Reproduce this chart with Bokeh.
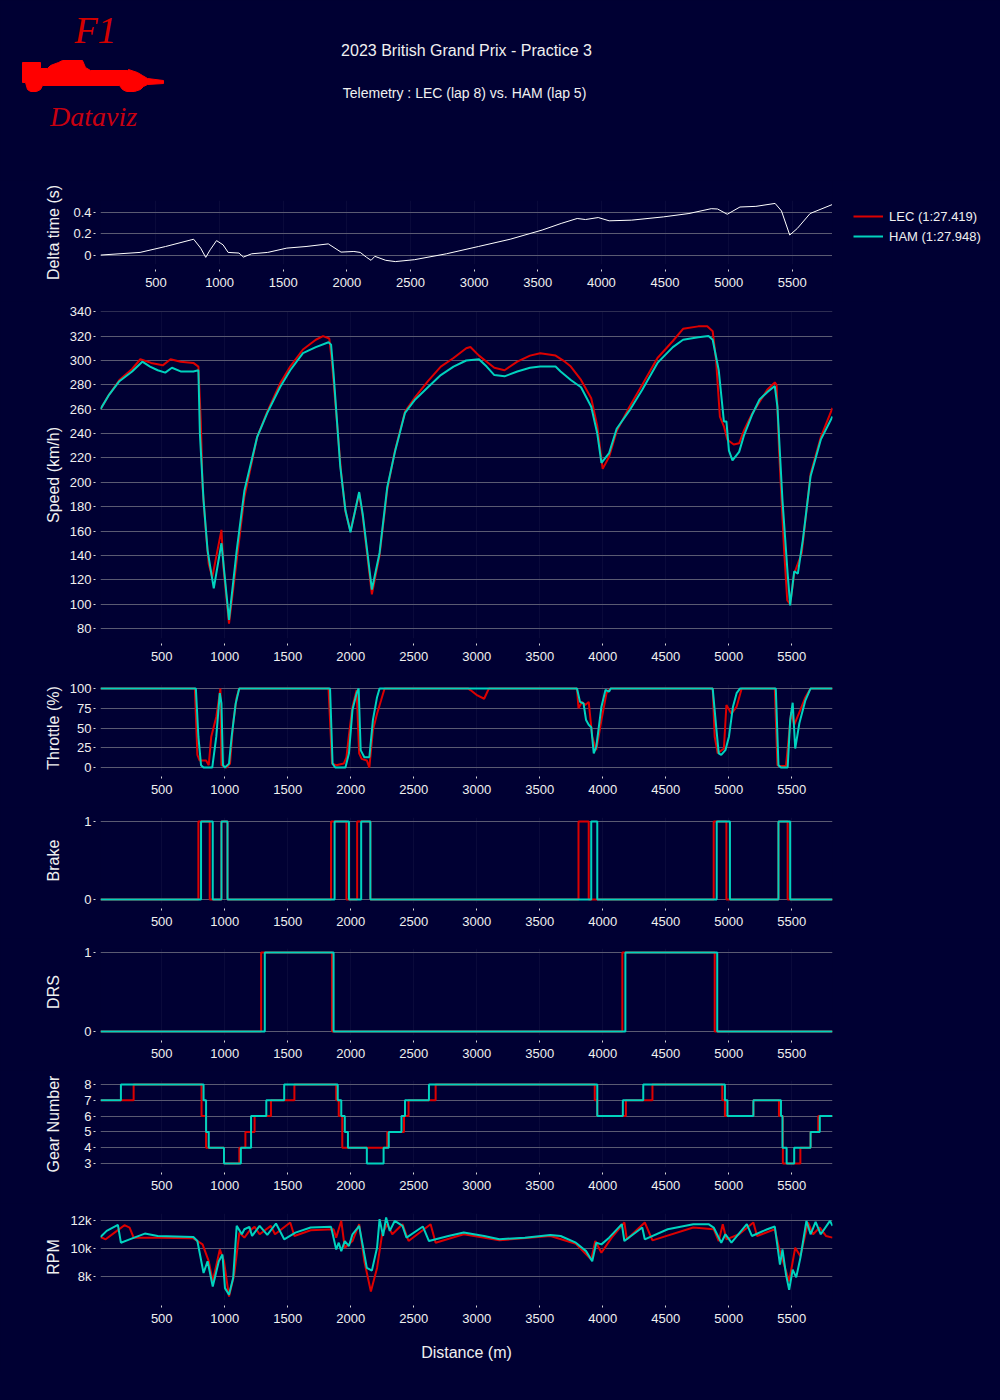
from bokeh.plotting import figure
from bokeh.layouts import column, row
from bokeh.models import Range1d, FixedTicker, NumeralTickFormatter, Legend, LegendItem
from bokeh.core.properties import value
from bokeh.embed import file_html
from bokeh.resources import INLINE

# ---------------- data ----------------
TITLE = "2023 British Grand Prix - Practice 3"
SUBTITLE = "Telemetry :  LEC (lap 8) vs. HAM (lap 5)"
LEC_LAP = "LEC (1:27.419)"
HAM_LAP = "HAM (1:27.948)"
X_TICKS = [500, 1000, 1500, 2000, 2500, 3000, 3500, 4000, 4500, 5000, 5500]

DELTA = [(64, 0.0), (375, 0.025), (575, 0.081), (776, 0.144), (796, 0.15), (851, 0.066),
         (891, -0.022), (926, 0.05), (976, 0.137), (1027, 0.097), (1067, 0.025), (1152, 0.019),
         (1187, -0.019), (1252, 0.012), (1378, 0.025), (1528, 0.066), (1679, 0.081), (1854, 0.106),
         (1954, 0.028), (2055, 0.034), (2105, 0.025), (2155, -0.022), (2190, -0.05), (2220, -0.012),
         (2305, -0.05), (2381, -0.062), (2531, -0.044), (2782, 0.012), (3033, 0.081), (3283, 0.15),
         (3534, 0.237), (3684, 0.3), (3810, 0.347), (3875, 0.337), (3975, 0.356), (4061, 0.325),
         (4236, 0.331), (4487, 0.362), (4688, 0.394), (4863, 0.44), (4913, 0.437), (4989, 0.387),
         (5089, 0.456), (5214, 0.462), (5365, 0.49), (5415, 0.419), (5480, 0.19), (5540, 0.253),
         (5640, 0.394), (5816, 0.48)]

SPEED_LEC = [(14, 260), (83, 272), (164, 284), (265, 293), (330, 301), (416, 298), (508, 296),
             (570, 301), (650, 299), (751, 298), (791, 295), (810, 250), (824, 196), (850, 160),
             (873, 133), (901, 122), (974, 161), (990, 130), (1034, 84), (1095, 136), (1156, 188),
             (1257, 237), (1338, 258), (1439, 281), (1520, 295), (1621, 309), (1723, 317),
             (1780, 320), (1830, 318), (1850, 300), (1925, 207), (1958, 176), (1998, 160),
             (2067, 191), (2095, 172), (2168, 108), (2229, 140), (2290, 194), (2351, 226),
             (2431, 258), (2512, 270), (2613, 283), (2715, 295), (2816, 302), (2917, 310),
             (2950, 311), (3018, 304), (3079, 299), (3140, 294), (3221, 292), (3322, 299),
             (3423, 304), (3504, 306), (3626, 304), (3700, 299), (3747, 295), (3828, 284),
             (3909, 269), (3957, 246), (4000, 211), (4051, 221), (4111, 242), (4213, 262),
             (4314, 280), (4435, 302), (4557, 316), (4638, 326), (4759, 328), (4830, 328),
             (4873, 324), (4900, 300), (4930, 254), (4962, 246), (4990, 235), (5040, 231),
             (5083, 232), (5123, 243), (5184, 256), (5306, 276), (5366, 282), (5380, 280),
             (5400, 226), (5440, 144), (5465, 103), (5488, 100), (5520, 125), (5580, 142),
             (5650, 207), (5731, 237), (5824, 261)]

SPEED_HAM = [(14, 260), (83, 272), (164, 283), (265, 291), (346, 299), (407, 295), (468, 292),
             (528, 290), (581, 294), (650, 291), (751, 291), (791, 292), (803, 240), (832, 185),
             (864, 144), (913, 113), (974, 150), (1034, 87), (1095, 144), (1156, 193), (1257, 237),
             (1338, 257), (1439, 278), (1520, 292), (1621, 306), (1723, 311), (1824, 315),
             (1844, 313), (1864, 289), (1917, 213), (1958, 177), (1998, 159), (2067, 192),
             (2095, 174), (2168, 112), (2229, 142), (2290, 196), (2351, 225), (2431, 257),
             (2512, 268), (2613, 278), (2715, 288), (2816, 295), (2917, 300), (3018, 301),
             (3079, 295), (3140, 288), (3221, 287), (3322, 291), (3423, 294), (3504, 295),
             (3626, 295), (3666, 291), (3747, 284), (3828, 278), (3909, 262), (3957, 240),
             (3990, 216), (4051, 224), (4111, 244), (4213, 259), (4314, 276), (4435, 298),
             (4557, 311), (4638, 317), (4759, 319), (4840, 320), (4873, 317), (4921, 292),
             (4962, 250), (4982, 250), (5002, 226), (5030, 218), (5083, 225), (5123, 239),
             (5184, 255), (5245, 268), (5306, 274), (5366, 279), (5387, 262), (5427, 185),
             (5468, 125), (5488, 99), (5520, 127), (5549, 125), (5589, 153), (5650, 205),
             (5731, 235), (5824, 254)]

THROTTLE_LEC = [(14, 100), (763, 100), (783, 16), (800, 9), (852, 9), (873, 3), (893, 39),
                (933, 64), (966, 100), (974, 3), (1014, 0), (1042, 5), (1067, 56), (1095, 89),
                (1115, 100), (1824, 100), (1852, 5), (1885, 3), (1945, 5), (1966, 13), (1986, 41),
                (2014, 77), (2047, 98), (2067, 18), (2087, 11), (2128, 9), (2148, 0), (2176, 47),
                (2209, 68), (2241, 85), (2269, 100), (2930, 100), (2950, 98), (2998, 92),
                (3059, 87), (3091, 98), (3100, 100), (3796, 100), (3808, 75), (3836, 83),
                (3861, 79), (3889, 83), (3917, 39), (3949, 22), (3990, 60), (4030, 94),
                (4063, 100), (4873, 100), (4889, 39), (4913, 18), (4962, 24), (4982, 79),
                (5022, 68), (5063, 77), (5103, 100), (5366, 100), (5387, 3), (5407, 2),
                (5455, 2), (5496, 70), (5520, 54), (5569, 73), (5609, 89), (5650, 100), (5824, 100)]

THROTTLE_HAM = [(14, 100), (771, 100), (791, 39), (812, 3), (832, 0), (901, 0), (933, 39),
                (961, 94), (974, 81), (986, 3), (1002, 0), (1034, 5), (1055, 39), (1087, 81),
                (1115, 100), (1836, 100), (1856, 5), (1877, 0), (1958, 0), (1986, 18), (2014, 73),
                (2047, 94), (2063, 100), (2079, 22), (2108, 13), (2148, 13), (2176, 60),
                (2209, 89), (2229, 100), (3796, 100), (3820, 83), (3848, 81), (3868, 60),
                (3889, 54), (3909, 51), (3929, 18), (3949, 26), (3990, 77), (4022, 98),
                (4051, 96), (4063, 100), (4873, 100), (4901, 51), (4921, 18), (4941, 16),
                (4974, 22), (5002, 39), (5034, 77), (5063, 94), (5091, 100), (5374, 100),
                (5395, 3), (5415, 0), (5468, 0), (5488, 60), (5508, 82), (5528, 24), (5561, 56),
                (5609, 85), (5650, 100), (5824, 100)]

# step data: (distance where value starts, value)
BRAKE_LEC = [(14, 0), (791, 1), (881, 0), (974, 1), (1022, 0), (1844, 1), (1966, 0), (2051, 1),
             (2156, 0), (3808, 1), (3889, 0), (4881, 1), (4982, 0), (5395, 1), (5468, 0), (5824, 0)]
BRAKE_HAM = [(14, 0), (812, 1), (905, 0), (974, 1), (1022, 0), (1872, 1), (1986, 0), (2083, 1),
             (2156, 0), (3909, 1), (3957, 0), (4905, 1), (5010, 0), (5395, 1), (5488, 0), (5824, 0)]

DRS_LEC = [(14, 0), (1289, 1), (1852, 0), (4156, 1), (4889, 0), (5824, 0)]
DRS_HAM = [(14, 0), (1318, 1), (1864, 0), (4180, 1), (4909, 0), (5824, 0)]

GEAR_LEC = [(14, 7), (277, 8), (816, 6), (852, 4), (994, 3), (1116, 4), (1164, 5), (1237, 6),
            (1367, 7), (1553, 8), (1885, 7), (1905, 6), (1933, 4), (2290, 5), (2423, 6),
            (2459, 7), (2674, 8), (3937, 7), (3957, 6), (4184, 7), (4395, 8), (4949, 7),
            (4970, 6), (5196, 7), (5399, 6), (5430, 3), (5569, 4), (5650, 5), (5711, 6), (5824, 6)]
GEAR_HAM = [(14, 7), (176, 8), (832, 7), (852, 5), (873, 4), (994, 3), (1128, 4), (1209, 6),
            (1330, 7), (1472, 8), (1897, 7), (1925, 6), (1953, 5), (1978, 4), (2128, 3),
            (2261, 4), (2302, 5), (2403, 6), (2431, 7), (2621, 8), (3957, 6), (4160, 7),
            (4322, 8), (4970, 7), (4990, 6), (5196, 7), (5415, 6), (5427, 4), (5460, 3),
            (5520, 4), (5650, 5), (5723, 6), (5824, 6)]

RPM_LEC = [(14, 10836), (55, 10667), (144, 11273), (204, 11685), (245, 11515), (277, 10788),
           (468, 10788), (751, 10739), (824, 10303), (873, 9091), (905, 7636), (961, 9939),
           (994, 9091), (1034, 6545), (1075, 8121), (1116, 11152), (1156, 10788), (1196, 11273),
           (1237, 11564), (1277, 11030), (1366, 11636), (1399, 11030), (1520, 11879),
           (1553, 10909), (1682, 11321), (1864, 11394), (1885, 10788), (1925, 12000),
           (1953, 10061), (2014, 10545), (2067, 11758), (2108, 9091), (2160, 6909), (2209, 8606),
           (2249, 11030), (2290, 11758), (2330, 11030), (2411, 11758), (2459, 10545),
           (2634, 11758), (2674, 10424), (2897, 11030), (3180, 10594), (3585, 10909),
           (3787, 10352), (3909, 9212), (3941, 10545), (3990, 9697), (4071, 10788),
           (4172, 11879), (4192, 10667), (4334, 11879), (4395, 10594), (4719, 11515),
           (4881, 11394), (4921, 10545), (4953, 11758), (4982, 10667), (5083, 11030),
           (5196, 11879), (5225, 10909), (5366, 11394), (5399, 10061), (5447, 8606),
           (5480, 7636), (5528, 10061), (5569, 9455), (5630, 11879), (5670, 11030),
           (5723, 11515), (5772, 10909), (5824, 10788)]
RPM_HAM = [(14, 10836), (63, 11273), (152, 11709), (176, 10424), (245, 10667), (366, 11079),
           (468, 10909), (751, 10836), (783, 10545), (832, 8242), (864, 9091), (905, 7273),
           (953, 9091), (982, 9576), (1002, 7152), (1034, 6667), (1067, 7879), (1095, 11636),
           (1136, 11030), (1156, 11394), (1196, 11564), (1217, 10909), (1277, 11636),
           (1338, 10982), (1407, 11806), (1472, 10667), (1561, 11152), (1682, 11515),
           (1844, 11564), (1885, 9939), (1905, 10424), (1925, 9818), (1953, 10545),
           (1986, 10182), (2014, 11030), (2047, 11394), (2067, 11636), (2128, 8606),
           (2168, 8412), (2209, 10061), (2229, 12121), (2257, 10909), (2281, 12242),
           (2310, 11273), (2350, 12000), (2411, 11636), (2443, 10788), (2573, 11588),
           (2621, 10545), (2775, 10909), (2897, 11152), (3059, 10909), (3180, 10667),
           (3383, 10788), (3585, 10982), (3666, 10909), (3787, 10424), (3868, 9818),
           (3917, 9091), (3949, 10424), (3990, 10303), (4051, 10788), (4152, 11758),
           (4172, 10545), (4314, 11515), (4334, 10667), (4516, 11394), (4719, 11758),
           (4840, 11758), (4881, 11515), (4941, 10424), (4974, 11030), (5022, 10424),
           (5144, 11758), (5184, 10909), (5306, 11394), (5366, 11588), (5407, 8848),
           (5427, 9939), (5455, 8121), (5480, 7030), (5508, 8485), (5536, 7927), (5569, 9333),
           (5617, 12000), (5650, 11030), (5690, 11927), (5731, 11030), (5804, 12000),
           (5824, 11636)]

# ---------------- style ----------------
BG = "#000033"
LEC_COLOR = "#dc0000"
HAM_COLOR = "#00d2be"
GRID = "#5a5a72"
TEXT = "#f0f0f0"
FONT = "Liberation Sans"
W = 1000
LEFT, RIGHT = 100, 168
NAN = float("nan")


def unzip(pairs):
    return [a for a, _ in pairs], [b for _, b in pairs]


def padded(*series):
    vals = [v for s in series for _, v in s]
    lo, hi = min(vals), max(vals)
    pad = (hi - lo) * 0.05
    return Range1d(lo - pad, hi + pad)


d_speed, _ = unzip(SPEED_HAM)
x_main = Range1d(min(d_speed), max(d_speed))
d_delta, _ = unzip(DELTA)
x_delta = Range1d(min(d_delta), max(d_delta))


def panel(height, top, bottom, x_range, y_range, yticks, label, standoff,
          width=W, right=RIGHT, align=True):
    p = figure(width=width, height=height, x_range=x_range, y_range=y_range,
               output_backend="svg", toolbar_location=None, frame_align=align,
               min_border_left=LEFT, min_border_right=right, min_border_top=top,
               min_border_bottom=bottom, background_fill_color=BG,
               border_fill_color=BG, outline_line_color=None)
    p.xaxis.ticker = FixedTicker(ticks=X_TICKS)
    p.yaxis.ticker = FixedTicker(ticks=yticks)
    for ax in (p.xaxis, p.yaxis):
        ax.axis_line_color = None
        ax.major_tick_line_color = "#d8d8d8"
        ax.minor_tick_line_color = None
        ax.major_label_text_color = TEXT
        ax.major_label_text_font = FONT
        ax.major_label_text_font_size = "13px"
    p.xaxis.major_tick_in = -5
    p.xaxis.major_tick_out = 7
    p.xaxis.major_label_standoff = 6
    p.yaxis.major_tick_in = -5
    p.yaxis.major_tick_out = 7
    p.yaxis.major_label_standoff = 2
    p.yaxis.axis_label = label
    p.yaxis.axis_label_text_font = FONT
    p.yaxis.axis_label_text_font_size = "16px"
    p.yaxis.axis_label_text_font_style = "normal"
    p.yaxis.axis_label_text_color = TEXT
    p.yaxis.axis_label_standoff = standoff
    p.ygrid.grid_line_color = GRID
    p.ygrid.grid_line_width = 1
    p.xgrid.grid_line_color = "white"
    p.xgrid.grid_line_alpha = 0.04
    return p


def lines(p, lec, ham, step=False, width=2):
    for s, c in ((lec, LEC_COLOR), (ham, HAM_COLOR)):
        x, y = unzip(s)
        if step:
            p.step(x, y, mode="after", line_color=c, line_width=width)
        else:
            p.line(x, y, line_color=c, line_width=width)


def blank(width, height):
    f = figure(width=width, height=height, x_range=Range1d(0, width),
               y_range=Range1d(height, 0), output_backend="svg", toolbar_location=None,
               min_border=0, frame_align=False, x_axis_type=None, y_axis_type=None,
               background_fill_color=BG, border_fill_color=BG, outline_line_color=None)
    f.xgrid.visible = False
    f.ygrid.visible = False
    return f


# ---------------- header ----------------
HEADER_H = 180
hdr = blank(W, HEADER_H)
hdr.text(x=[466], y=[50], text=[TITLE], text_align="center", text_baseline="middle",
         text_font=value(FONT), text_font_size="16px", text_color=TEXT)
hdr.text(x=[466], y=[92], text=[SUBTITLE], text_align="center", text_baseline="middle",
         text_font=value(FONT), text_font_size="14px", text_color=TEXT)
# logo
hdr.text(x=[95], y=[29], text=["F1"], text_align="center", text_baseline="middle",
         text_font=value("Liberation Serif"), text_font_style="italic",
         text_font_size="38px", text_color="#d40000")
hdr.text(x=[93], y=[116], text=["Dataviz"], text_align="center", text_baseline="middle",
         text_font=value("Liberation Serif"), text_font_style="italic",
         text_font_size="28px", text_color="#c80010")
CAR_X = [22, 40, 40, 47, 50, 58, 62, 82, 85, 90, 127, 128, 137, 142, 147, 163, 163, 147, 143,
         140, 134, 126, 122, 119, 42, 40, 36, 30, 27, 25, 22]
CAR_Y = [62, 62, 68, 68, 65, 62, 60, 60, 67, 70, 70, 69, 72, 75, 78, 80, 83, 84, 86, 89, 91,
         91, 89, 85, 85, 89, 91, 91, 89, 82, 82]
hdr.patch(CAR_X, CAR_Y, fill_color="#ff0000", line_color="#ff0000")

# ---------------- panels ----------------
DELTA_H = 121
p_delta = panel(DELTA_H, 20, 37, x_delta, padded(DELTA), [0, 0.2, 0.4], "Delta time (s)", 8,
                width=W - RIGHT, right=0, align=False)
p_delta.yaxis.major_label_overrides = {0: "0"}
dx, dy = unzip(DELTA)
p_delta.line(dx, dy, line_color="white", line_width=1)

# legend box to the right of the delta panel (legend-only renderers, nothing plotted)
p_leg = blank(RIGHT, DELTA_H)
r_lec = p_leg.line([NAN], [NAN], line_color=LEC_COLOR, line_width=2)
r_ham = p_leg.line([NAN], [NAN], line_color=HAM_COLOR, line_width=2)
lg = Legend(items=[LegendItem(label=LEC_LAP, renderers=[r_lec]),
                   LegendItem(label=HAM_LAP, renderers=[r_ham])],
            location=(21, 55), padding=0, margin=0, spacing=0, glyph_height=20,
            glyph_width=30, label_height=20, label_standoff=6, background_fill_alpha=0,
            border_line_alpha=0, label_text_color=TEXT, label_text_font=FONT,
            label_text_font_size="13px")
p_leg.add_layout(lg, "center")

p_speed = panel(373, 10, 36, x_main, padded(SPEED_LEC, SPEED_HAM),
                list(range(80, 341, 20)), "Speed (km/h)", 5)
lines(p_speed, SPEED_LEC, SPEED_HAM)

p_thr = panel(133, 10, 36, x_main, padded(THROTTLE_LEC, THROTTLE_HAM),
              [0, 25, 50, 75, 100], "Throttle (%)", 5)
lines(p_thr, THROTTLE_LEC, THROTTLE_HAM)

p_brk = panel(131, 10, 35, x_main, padded(BRAKE_LEC, BRAKE_HAM), [0, 1], "Brake", 19)
lines(p_brk, BRAKE_LEC, BRAKE_HAM, step=True)

p_drs = panel(132, 10, 35, x_main, padded(DRS_LEC, DRS_HAM), [0, 1], "DRS", 19)
lines(p_drs, DRS_LEC, DRS_HAM, step=True)

p_gear = panel(133, 10, 36, x_main, padded(GEAR_LEC, GEAR_HAM), [3, 4, 5, 6, 7, 8],
               "Gear Number", 19)
lines(p_gear, GEAR_LEC, GEAR_HAM, step=True)

p_rpm = panel(169, 10, 72, x_main, padded(RPM_LEC, RPM_HAM), [8000, 10000, 12000], "RPM", 6)
p_rpm.yaxis.formatter = NumeralTickFormatter(format="0a")
lines(p_rpm, RPM_LEC, RPM_HAM)
p_rpm.xaxis.axis_label = "Distance (m)"
p_rpm.xaxis.axis_label_text_font = FONT
p_rpm.xaxis.axis_label_text_font_size = "16px"
p_rpm.xaxis.axis_label_text_font_style = "normal"
p_rpm.xaxis.axis_label_text_color = TEXT
p_rpm.xaxis.axis_label_standoff = 18

layout = column(hdr, row(p_delta, p_leg, spacing=0), p_speed, p_thr, p_brk, p_drs,
                p_gear, p_rpm, spacing=0)

html = file_html(layout, INLINE, title="2023 British Grand Prix - Practice 3 telemetry")
html = html.replace("</head>", "<style>body{background-color:#000033;}</style></head>", 1)
open("out.html", "w").write(html)
